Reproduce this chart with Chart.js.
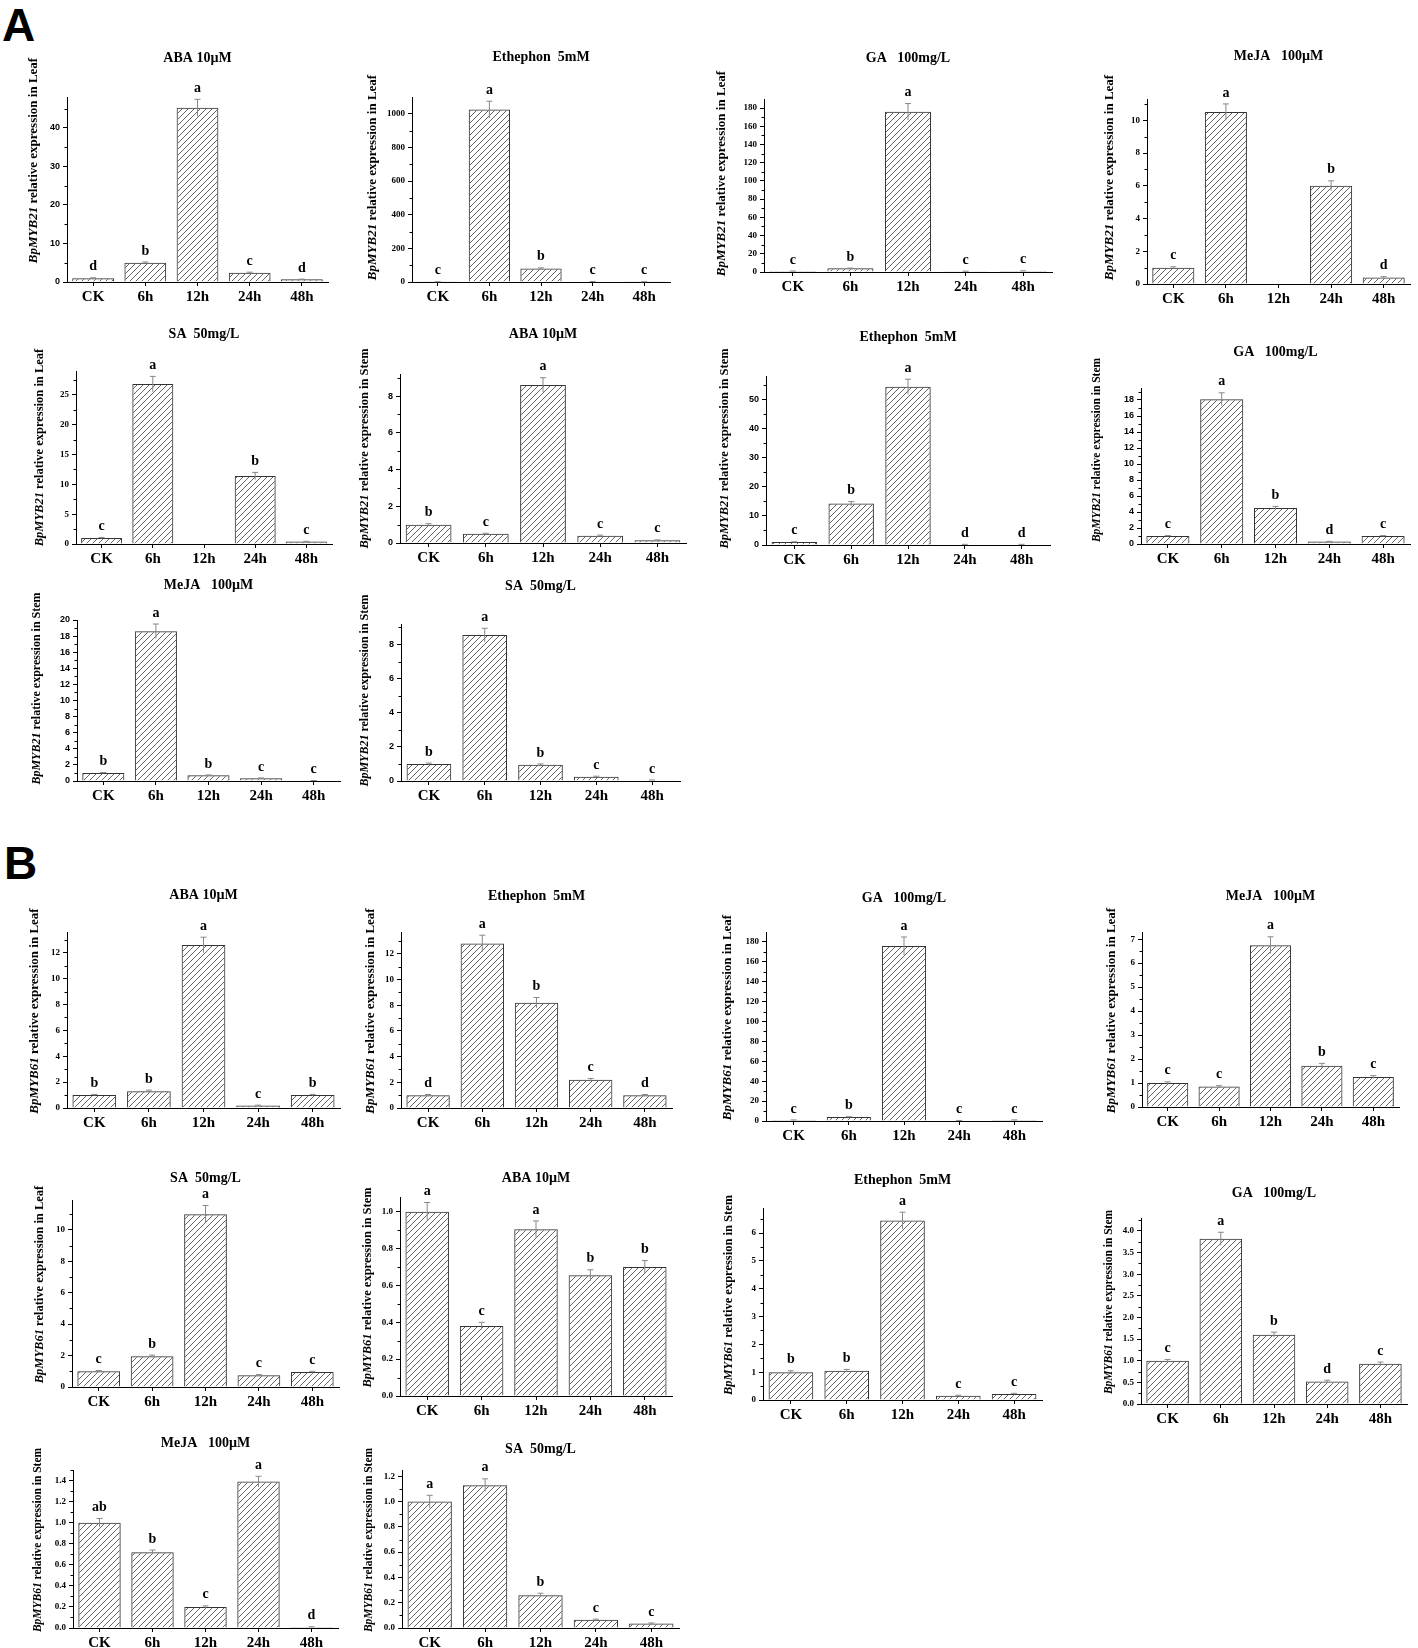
<!DOCTYPE html>
<html>
<head>
<meta charset="utf-8">
<script src="https://cdn.jsdelivr.net/npm/chart.js@4.4.0/dist/chart.umd.min.js"></script>
<style>
body{margin:0;background:#fff;width:1418px;height:1648px;position:relative;overflow:hidden}
canvas{position:absolute}
.big{position:absolute;font-family:"Liberation Sans",Arial,sans-serif;font-weight:bold;font-size:46px;line-height:46px}
</style>
</head>
<body>
<div class="big" style="left:2px;top:2px">A</div>
<div class="big" style="left:4px;top:840px">B</div>
<script>
// categorias del eje x
const categorias = ["CK", "6h", "12h", "24h", "48h"];

// A: BpMYB21
const aHojaABA = [1.0, 5.0, 45.2, 2.4, 0.7];
const aHojaABAerr = [0.1, 0.2, 2.2, 0.15, 0.05];
const aHojaABAsig = ["d", "b", "a", "c", "d"];

const aHojaEth = [1.5, 1025, 80, 3, 1.5];
const aHojaEtherr = [0.2, 50, 4, 0.3, 0.2];
const aHojaEthsig = ["c", "a", "b", "c", "c"];

const aHojaGA = [1.0, 4.0, 176, 0.8, 1.2];
const aHojaGAerr = [0.1, 0.3, 9, 0.1, 0.1];
const aHojaGAsig = ["c", "b", "a", "c", "c"];

const aHojaMeJA = [1.0, 10.5, null, 6.0, 0.4];
const aHojaMeJAerr = [0.05, 0.5, 0, 0.3, 0.05];
const aHojaMeJAsig = ["c", "a", "", "b", "d"];

const aHojaSA = [1.0, 26.8, null, 11.4, 0.4];
const aHojaSAerr = [0.1, 1.3, 0, 0.6, 0.05];
const aHojaSAsig = ["c", "a", "", "b", "c"];

const aTalloABA = [1.0, 0.5, 8.6, 0.4, 0.15];
const aTalloABAerr = [0.05, 0.03, 0.4, 0.03, 0.02];
const aTalloABAsig = ["b", "c", "a", "c", "c"];

const aTalloEth = [1.0, 14.2, 54.3, 0.2, 0.2];
const aTalloEtherr = [0.1, 0.7, 2.6, 0.03, 0.03];
const aTalloEthsig = ["c", "b", "a", "d", "d"];

const aTalloGA = [1.0, 18.1, 4.5, 0.3, 1.0];
const aTalloGAerr = [0.05, 0.8, 0.2, 0.03, 0.05];
const aTalloGAsig = ["c", "a", "b", "d", "c"];

const aTalloMeJA = [1.0, 18.6, 0.7, 0.35, 0.05];
const aTalloMeJAerr = [0.05, 0.9, 0.05, 0.03, 0.01];
const aTalloMeJAsig = ["b", "a", "b", "c", "c"];

const aTalloSA = [1.0, 8.55, 0.95, 0.25, 0.05];
const aTalloSAerr = [0.05, 0.4, 0.05, 0.03, 0.01];
const aTalloSAsig = ["b", "a", "b", "c", "c"];

// B: BpMYB61
const bHojaABA = [1.0, 1.3, 12.6, 0.2, 1.0];
const bHojaABAerr = [0.05, 0.08, 0.6, 0.02, 0.05];
const bHojaABAsig = ["b", "b", "a", "c", "b"];

const bHojaEth = [1.0, 12.8, 8.2, 2.2, 1.0];
const bHojaEtherr = [0.05, 0.65, 0.4, 0.1, 0.05];
const bHojaEthsig = ["d", "a", "b", "c", "d"];

const bHojaGA = [1.0, 4.0, 176, 0.5, 1.0];
const bHojaGAerr = [0.1, 0.3, 9, 0.05, 0.1];
const bHojaGAsig = ["c", "b", "a", "c", "c"];

const bHojaMeJA = [1.0, 0.85, 6.75, 1.72, 1.25];
const bHojaMeJAerr = [0.05, 0.04, 0.35, 0.1, 0.06];
const bHojaMeJAsig = ["c", "c", "a", "b", "c"];

const bHojaSA = [1.0, 1.95, 11.0, 0.75, 0.95];
const bHojaSAerr = [0.05, 0.08, 0.55, 0.04, 0.05];
const bHojaSAsig = ["c", "b", "a", "c", "c"];

const bTalloABA = [1.0, 0.38, 0.905, 0.655, 0.70];
const bTalloABAerr = [0.05, 0.02, 0.045, 0.03, 0.035];
const bTalloABAsig = ["a", "c", "a", "b", "b"];

const bTalloEth = [1.0, 1.05, 6.45, 0.15, 0.22];
const bTalloEtherr = [0.05, 0.05, 0.3, 0.02, 0.02];
const bTalloEthsig = ["b", "b", "a", "c", "c"];

const bTalloGA = [1.0, 3.82, 1.6, 0.52, 0.93];
const bTalloGAerr = [0.03, 0.15, 0.06, 0.03, 0.04];
const bTalloGAsig = ["c", "a", "b", "d", "c"];

const bTalloMeJA = [1.0, 0.72, 0.2, 1.39, 0.01];
const bTalloMeJAerr = [0.04, 0.02, 0.01, 0.05, 0.002];
const bTalloMeJAsig = ["ab", "b", "c", "a", "d"];

const bTalloSA = [1.0, 1.13, 0.26, 0.065, 0.035];
const bTalloSAerr = [0.05, 0.05, 0.015, 0.005, 0.005];
const bTalloSAsig = ["a", "a", "b", "c", "c"];

// paneles: titulo, gen, tejido, datos, errores, letras, maximo y, paso, decimales
let paneles = [
  ["ABA 10\u00b5M", "BpMYB21", "Leaf", aHojaABA, aHojaABAerr, aHojaABAsig, 48, 10, 0],
  ["Ethephon  5mM", "BpMYB21", "Leaf", aHojaEth, aHojaEtherr, aHojaEthsig, 1100, 200, 0],
  ["GA   100mg/L", "BpMYB21", "Leaf", aHojaGA, aHojaGAerr, aHojaGAsig, 190, 20, 0],
  ["MeJA   100\u00b5M", "BpMYB21", "Leaf", aHojaMeJA, aHojaMeJAerr, aHojaMeJAsig, 11.3, 2, 0],
  ["SA  50mg/L", "BpMYB21", "Leaf", aHojaSA, aHojaSAerr, aHojaSAsig, 29, 5, 0],
  ["ABA 10\u00b5M", "BpMYB21", "Stem", aTalloABA, aTalloABAerr, aTalloABAsig, 9.2, 2, 0],
  ["Ethephon  5mM", "BpMYB21", "Stem", aTalloEth, aTalloEtherr, aTalloEthsig, 58, 10, 0],
  ["GA   100mg/L", "BpMYB21", "Stem", aTalloGA, aTalloGAerr, aTalloGAsig, 19.5, 2, 0],
  ["MeJA   100\u00b5M", "BpMYB21", "Stem", aTalloMeJA, aTalloMeJAerr, aTalloMeJAsig, 20, 2, 0],
  ["SA  50mg/L", "BpMYB21", "Stem", aTalloSA, aTalloSAerr, aTalloSAsig, 9.2, 2, 0],
  ["ABA 10\u00b5M", "BpMYB61", "Leaf", bHojaABA, bHojaABAerr, bHojaABAsig, 13.6, 2, 0],
  ["Ethephon  5mM", "BpMYB61", "Leaf", bHojaEth, bHojaEtherr, bHojaEthsig, 13.7, 2, 0],
  ["GA   100mg/L", "BpMYB61", "Leaf", bHojaGA, bHojaGAerr, bHojaGAsig, 190, 20, 0],
  ["MeJA   100\u00b5M", "BpMYB61", "Leaf", bHojaMeJA, bHojaMeJAerr, bHojaMeJAsig, 7.3, 1, 0],
  ["SA  50mg/L", "BpMYB61", "Leaf", bHojaSA, bHojaSAerr, bHojaSAsig, 11.9, 2, 0],
  ["ABA 10\u00b5M", "BpMYB61", "Stem", bTalloABA, bTalloABAerr, bTalloABAsig, 1.08, 0.2, 1],
  ["Ethephon  5mM", "BpMYB61", "Stem", bTalloEth, bTalloEtherr, bTalloEthsig, 6.9, 1, 0],
  ["GA   100mg/L", "BpMYB61", "Stem", bTalloGA, bTalloGAerr, bTalloGAsig, 4.3, 0.5, 1],
  ["MeJA   100\u00b5M", "BpMYB61", "Stem", bTalloMeJA, bTalloMeJAerr, bTalloMeJAsig, 1.5, 0.2, 1],
  ["SA  50mg/L", "BpMYB61", "Stem", bTalloSA, bTalloSAerr, bTalloSAsig, 1.25, 0.2, 1]
];

// posicion de cada panel: eje y, derecha, arriba, base, titulo, distancia titulo y, tamano, fuente ticks
let posiciones = [
  {x:67, r:328, t:97, b:282, ty:58, yd:33, ys:13, ym:-29, sans:true},
  {x:412, r:670, t:97, b:282, ty:57, yd:39, ys:13, ym:-12, sans:false},
  {x:764, r:1052, t:99, b:272, ty:58, yd:42, ys:13, ym:-12, sans:false},
  {x:1147, r:1410, t:99, b:284, ty:56, yd:37, ys:13, ym:-14, sans:false},
  {x:76, r:332, t:371, b:544, ty:334, yd:36, ys:12.5, ym:-10, sans:false},
  {x:400, r:686, t:374, b:543, ty:334, yd:35, ys:12.5, ym:-10, sans:true},
  {x:766, r:1050, t:376, b:545, ty:337, yd:41, ys:12.5, ym:-12, sans:true},
  {x:1141, r:1410, t:388, b:544, ty:352, yd:44, ys:11.5, ym:-16, sans:true},
  {x:77, r:340, t:620, b:781, ty:585, yd:40, ys:12, ym:-12, sans:true},
  {x:401, r:680, t:624, b:781, ty:586, yd:36, ys:12, ym:-12, sans:true},
  {x:67, r:340, t:932, b:1108, ty:895, yd:32, ys:13, ym:-9, sans:false},
  {x:401, r:672, t:932, b:1108, ty:896, yd:30, ys:13, ym:-9, sans:false},
  {x:766, r:1042, t:932, b:1121, ty:898, yd:38, ys:13, ym:-9, sans:false},
  {x:1142, r:1399, t:932, b:1107, ty:896, yd:30, ys:13, ym:-9, sans:false},
  {x:72, r:339, t:1200, b:1387, ty:1178, yd:32, ys:12.5, ym:-9, sans:false},
  {x:400, r:672, t:1197, b:1396, ty:1178, yd:32, ys:12.5, ym:-9, sans:false},
  {x:763, r:1042, t:1208, b:1400, ty:1180, yd:34, ys:12.5, ym:-9, sans:false},
  {x:1141, r:1407, t:1218, b:1404, ty:1193, yd:32, ys:11.5, ym:-9, sans:false},
  {x:73, r:338, t:1470, b:1628, ty:1443, yd:35, ys:11.5, ym:-9, sans:false},
  {x:402, r:679, t:1470, b:1628, ty:1449, yd:33, ys:11.5, ym:-9, sans:false}
];

const SERIF = '"Liberation Serif", "Times New Roman", serif';
const SANS = '"Liberation Sans", Arial, sans-serif';

function crearRayado(){
    const c = document.createElement("canvas");
    c.width = 6; c.height = 6;
    const g = c.getContext("2d");
    g.strokeStyle = "#555";
    g.lineWidth = 0.9;
    g.beginPath();
    g.moveTo(-1, 7); g.lineTo(7, -1);
    g.moveTo(-4, 4); g.lineTo(4, -4);
    g.moveTo(2, 10); g.lineTo(10, 2);
    g.stroke();
    return g.createPattern(c, "repeat");
}

// dibuja titulo, titulo del eje y, barras de error, letras y ticks menores
const extras = {
    id: "extras",
    afterDatasetsDraw(chart, args, opts){
        const ctx = chart.ctx;
        const area = chart.chartArea;
        const y = chart.scales.y;
        const meta = chart.getDatasetMeta(0);
        ctx.save();
        // ticks menores
        ctx.strokeStyle = "#000";
        ctx.lineWidth = 1;
        for(let v = opts.paso/2; v < opts.max; v += opts.paso){
            const py = Math.round(y.getPixelForValue(v)) + 0.5;
            ctx.beginPath();
            ctx.moveTo(area.left, py);
            ctx.lineTo(area.left - 2.5, py);
            ctx.stroke();
        }
        // barras de error y letras
        for(let i = 0; i < meta.data.length; i++){
            const v = opts.valores[i];
            if(v == null) continue;
            const e = opts.errores[i];
            const bar = meta.data[i];
            const yTop = y.getPixelForValue(v + e);
            const yLow = y.getPixelForValue(Math.max(v - e, 0));
            ctx.strokeStyle = "#888";
            ctx.lineWidth = 1;
            ctx.beginPath();
            ctx.moveTo(bar.x, yLow);
            ctx.lineTo(bar.x, yTop);
            ctx.moveTo(bar.x - 3, yTop);
            ctx.lineTo(bar.x + 3, yTop);
            ctx.stroke();
            ctx.fillStyle = "#000";
            ctx.font = "bold 14px " + SERIF;
            ctx.textAlign = "center";
            ctx.textBaseline = "bottom";
            ctx.fillText(opts.letras[i], bar.x, Math.min(yTop, bar.y) - 4);
        }
        // titulo
        ctx.fillStyle = "#000";
        ctx.font = "bold 14px " + SERIF;
        ctx.textAlign = "center";
        ctx.textBaseline = "middle";
        ctx.fillText(opts.titulo, (area.left + area.right)/2, opts.tituloY);
        // titulo del eje y con la parte del gen en cursiva
        const parte1 = opts.gen;
        const parte2 = " relative expression in " + opts.tejido;
        const f1 = "italic bold " + opts.ys + "px " + SERIF;
        const f2 = "bold " + opts.ys + "px " + SERIF;
        ctx.font = f1;
        const w1 = ctx.measureText(parte1).width;
        ctx.font = f2;
        const w2 = ctx.measureText(parte2).width;
        ctx.translate(area.left - opts.yd, (area.top + area.bottom)/2 + opts.ym);
        ctx.rotate(-Math.PI/2);
        ctx.textAlign = "left";
        ctx.textBaseline = "middle";
        ctx.font = f1;
        ctx.fillText(parte1, -(w1 + w2)/2, 0);
        ctx.font = f2;
        ctx.fillText(parte2, -(w1 + w2)/2 + w1, 0);
        ctx.restore();
    }
};

const rayado = crearRayado();

for(let k = 0; k < paneles.length; k++){
    const p = paneles[k];
    const pos = posiciones[k];
    const izq = pos.x - 60;
    const arriba = pos.ty - 14;
    const ancho = pos.r - izq + 6;
    const alto = pos.b + 30 - arriba;

    const lienzo = document.createElement("canvas");
    lienzo.width = ancho;
    lienzo.height = alto;
    lienzo.style.left = izq + "px";
    lienzo.style.top = arriba + "px";
    lienzo.style.width = ancho + "px";
    lienzo.style.height = alto + "px";
    document.body.appendChild(lienzo);

    const maximo = p[6];
    const paso = p[7];
    const decimales = p[8];
    const fuenteTicks = pos.sans ? SANS : SERIF;

    new Chart(lienzo.getContext("2d"), {
        type: "bar",
        data: {
            labels: categorias,
            datasets: [{
                data: p[3],
                backgroundColor: rayado,
                borderColor: "#333",
                borderWidth: 1,
                barPercentage: 0.8,
                categoryPercentage: 1.0
            }]
        },
        options: {
            responsive: false,
            maintainAspectRatio: false,
            animation: false,
            devicePixelRatio: 1,
            layout: { padding: { left: 0, right: 6, top: pos.t - arriba, bottom: 0 } },
            plugins: {
                legend: { display: false },
                tooltip: { enabled: false },
                extras: {
                    titulo: p[0], gen: p[1], tejido: p[2],
                    valores: p[3], errores: p[4], letras: p[5],
                    max: maximo, paso: paso,
                    tituloY: pos.ty - arriba, yd: pos.yd, ys: pos.ys, ym: pos.ym
                }
            },
            scales: {
                x: {
                    grid: { display: true, drawOnChartArea: false, drawTicks: true, tickLength: 4, offset: false, color: "#000" },
                    border: { display: true, color: "#000", width: 1 },
                    ticks: { color: "#000", font: { family: SERIF, size: 15, weight: "bold" }, padding: 2 },
                    afterFit: function(s){ s.height = 30; }
                },
                y: {
                    min: 0,
                    max: maximo,
                    grid: { display: true, drawOnChartArea: false, drawTicks: true, tickLength: 4, color: "#000" },
                    border: { display: true, color: "#000", width: 1 },
                    ticks: {
                        color: "#000",
                        padding: 3,
                        font: { family: fuenteTicks, size: 9, weight: "bold" },
                        callback: function(v){ return Number(v).toFixed(decimales); }
                    },
                    afterBuildTicks: function(s){
                        const n = Math.floor(maximo/paso + 1e-6);
                        const lista = [];
                        for(let i = 0; i <= n; i++){
                            lista.push({ value: Math.round(i*paso*1000)/1000 });
                        }
                        s.ticks = lista;
                    },
                    afterFit: function(s){ s.width = 60; }
                }
            }
        },
        plugins: [extras]
    });
}
</script>
</body>
</html>
